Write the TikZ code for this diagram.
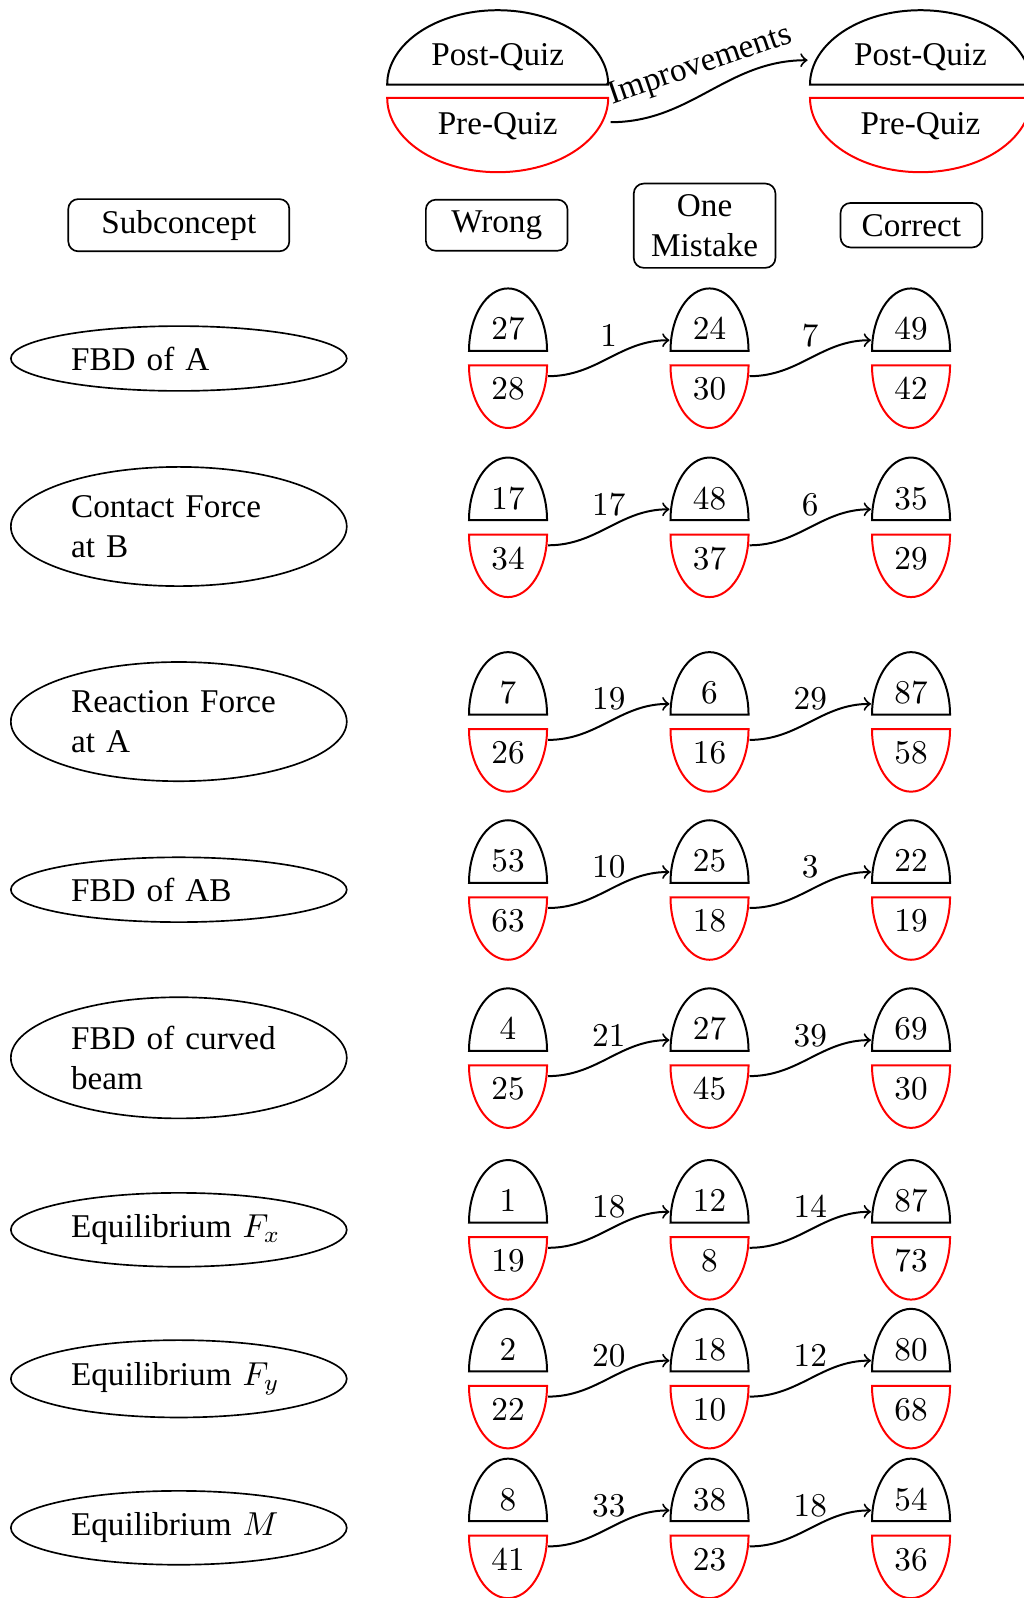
\documentclass[tikz,border=0pt]{standalone}
\usepackage[no-math]{fontspec}
\setmainfont{Liberation Serif}
\usetikzlibrary{shapes.geometric}

\tikzset{
  hdr/.style={draw, rounded corners=3pt, line width=0.5pt, minimum width=1.5cm, align=center},
  topic/.style={draw, ellipse, line width=0.5pt, text width=2.28cm, align=left},
  postline/.style={draw=black, line width=0.6pt},
  preline/.style={draw=red, line width=0.6pt},
  cellbox/.style={inner sep=0pt, outer sep=0pt},
  numtxt/.style={inner sep=0pt},
  conn/.style={->, line width=0.6pt},
  gain/.style={above},
  % one score pair: post-quiz on top (black), pre-quiz below (red)
  pics/cell/.style args={#1/#2}{code={
    \node[cellbox, minimum width=24.1pt, minimum height=10.84pt] (-f) at (0,0) {};
    \draw[postline] (-39,-7.25) arc[start angle=180, end angle=0, x radius=11.75pt, y radius=18.83pt] -- cycle;
    \draw[preline] (-39,7.25) arc[start angle=180, end angle=360, x radius=11.75pt, y radius=18.83pt] -- cycle;
    \node[numtxt] (-t) at (0,-29) {$#1$};
    \node[numtxt] (-b) at (0,31) {$#2$};
  }},
  % the larger legend pair
  pics/keycell/.style={code={
    \node[cellbox, minimum width=68pt, minimum height=18.67pt] (-f) at (0,0) {};
    \draw[postline] (-110.5,-6.6) arc[start angle=180, end angle=0, x radius=33.28pt, y radius=22.41pt] -- cycle;
    \draw[preline] (-110.5,6.6) arc[start angle=180, end angle=360, x radius=33.28pt, y radius=22.41pt] -- cycle;
    \node[inner sep=0pt] (-t) at (0,-34) {Post-Quiz};
    \node[inner sep=0pt] (-b) at (0,35) {Pre-Quiz};
  }}
}

\begin{document}
\begin{tikzpicture}[x=0.3012pt, y=-0.3012pt]
\useasboundingbox (0,0) rectangle (1024,1598);

% legend
\pic (kl) at (497.7,91.2) {keycell};
\pic (kr) at (920.5,91.2) {keycell};
\draw[conn] (kl-f.south east) to[out=0,in=180] node[midway, anchor=south, rotate=19] {Improvements} (kr-f.north west);

% column headers
\node[hdr, minimum width=2.34cm] (sub) at (178.8,225.2) {Subconcept};
\node[hdr] (wr) at (496.7,225.2) {Wrong};
\node[hdr] (om) at (704.6,225.7) {One\\Mistake};
\node[hdr] (co) at (911.4,225.2) {Correct};

% subconcepts
\node[topic] (s1) at (178.8,358.5) {FBD of A};
\node[topic] (s2) at (178.8,526.5) {Contact Force at B};
\node[topic] (s3) at (178.8,721.6) {Reaction Force at A};
\node[topic] (s4) at (178.8,889.7) {FBD of AB};
\node[topic] (s5) at (178.8,1057.8) {FBD of curved beam};
\node[topic] (s6) at (178.8,1229.8) {Equilibrium $F_x$};
\node[topic] (s7) at (178.8,1378.8) {Equilibrium $F_y$};
\node[topic] (s8) at (178.8,1527.8) {Equilibrium $M$};

% score pairs: wrong, one mistake, correct
\pic (r1w) at (508,358.2) {cell=27/28};
\pic (r1o) at (709.5,358.2) {cell=24/30};
\pic (r1c) at (911,358.2) {cell=49/42};
\pic (r2w) at (508,527.3) {cell=17/34};
\pic (r2o) at (709.5,527.3) {cell=48/37};
\pic (r2c) at (911,527.3) {cell=35/29};
\pic (r3w) at (508,721.9) {cell=7/26};
\pic (r3o) at (709.5,721.9) {cell=6/16};
\pic (r3c) at (911,721.9) {cell=87/58};
\pic (r4w) at (508,890.0) {cell=53/63};
\pic (r4o) at (709.5,890.0) {cell=25/18};
\pic (r4c) at (911,890.0) {cell=22/19};
\pic (r5w) at (508,1058.1) {cell=4/25};
\pic (r5o) at (709.5,1058.1) {cell=27/45};
\pic (r5c) at (911,1058.1) {cell=69/30};
\pic (r6w) at (508,1229.8) {cell=1/19};
\pic (r6o) at (709.5,1229.8) {cell=12/8};
\pic (r6c) at (911,1229.8) {cell=87/73};
\pic (r7w) at (508,1378.6) {cell=2/22};
\pic (r7o) at (709.5,1378.6) {cell=18/10};
\pic (r7c) at (911,1378.6) {cell=80/68};
\pic (r8w) at (508,1528.4) {cell=8/41};
\pic (r8o) at (709.5,1528.4) {cell=38/23};
\pic (r8c) at (911,1528.4) {cell=54/36};

% improvements between levels
\draw[conn] (r1w-f.south east) to[out=0,in=180] node[gain] {$1$} (r1o-f.north west);
\draw[conn] (r1o-f.south east) to[out=0,in=180] node[gain] {$7$} (r1c-f.north west);
\draw[conn] (r2w-f.south east) to[out=0,in=180] node[gain] {$17$} (r2o-f.north west);
\draw[conn] (r2o-f.south east) to[out=0,in=180] node[gain] {$6$} (r2c-f.north west);
\draw[conn] (r3w-f.south east) to[out=0,in=180] node[gain] {$19$} (r3o-f.north west);
\draw[conn] (r3o-f.south east) to[out=0,in=180] node[gain] {$29$} (r3c-f.north west);
\draw[conn] (r4w-f.south east) to[out=0,in=180] node[gain] {$10$} (r4o-f.north west);
\draw[conn] (r4o-f.south east) to[out=0,in=180] node[gain] {$3$} (r4c-f.north west);
\draw[conn] (r5w-f.south east) to[out=0,in=180] node[gain] {$21$} (r5o-f.north west);
\draw[conn] (r5o-f.south east) to[out=0,in=180] node[gain] {$39$} (r5c-f.north west);
\draw[conn] (r6w-f.south east) to[out=0,in=180] node[gain] {$18$} (r6o-f.north west);
\draw[conn] (r6o-f.south east) to[out=0,in=180] node[gain] {$14$} (r6c-f.north west);
\draw[conn] (r7w-f.south east) to[out=0,in=180] node[gain] {$20$} (r7o-f.north west);
\draw[conn] (r7o-f.south east) to[out=0,in=180] node[gain] {$12$} (r7c-f.north west);
\draw[conn] (r8w-f.south east) to[out=0,in=180] node[gain] {$33$} (r8o-f.north west);
\draw[conn] (r8o-f.south east) to[out=0,in=180] node[gain] {$18$} (r8c-f.north west);
\end{tikzpicture}
\end{document}
